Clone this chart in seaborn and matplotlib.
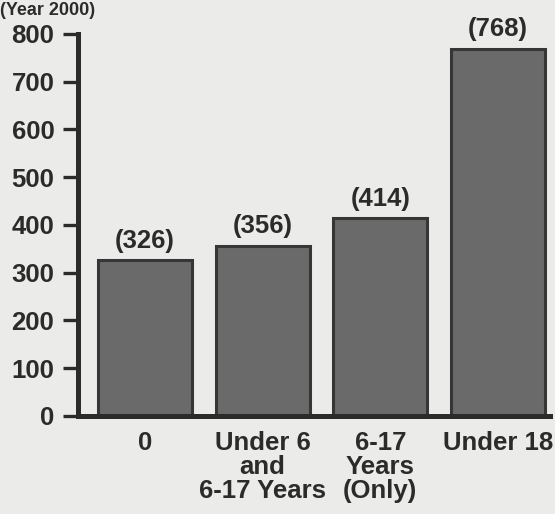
import matplotlib
matplotlib.use("Agg")
import matplotlib.pyplot as plt
import seaborn as sns
import pandas as pd

# Number of children in household
categories = ["0", "Under 6\nand\n6-17 Years", "6-17\nYears\n(Only)", "Under 18"]
values = [326, 356, 414, 768]
value_labels = ["(326)", "(356)", "(414)", "(768)"]
y_ticks = [0, 100, 200, 300, 400, 500, 600, 700, 800]

df = pd.DataFrame({"group": categories, "value": values})

sns.set_theme(style="white")
plt.rcParams["font.family"] = ["Liberation Sans", "DejaVu Sans"]
plt.rcParams["font.weight"] = "bold"

bg = "#ebebe9"
ink = "#2b2b2b"
bar_fill = "#6a6a6a"
bar_edge = "#363636"
fs = 18.5

fig = plt.figure(figsize=(5.55, 5.14), dpi=100, facecolor=bg)
ax = fig.add_axes([0.1405, 0.1907, 0.850, 0.7435])
ax.set_facecolor(bg)

sns.barplot(data=df, x="group", y="value", color=bar_fill, width=0.8,
            edgecolor=bar_edge, linewidth=2.2, saturation=1, ax=ax)

for patch, lab in zip(ax.patches, value_labels):
    ax.text(patch.get_x() + patch.get_width() / 2, patch.get_height() + 16, lab,
            ha="center", va="bottom", fontsize=fs, fontweight="bold",
            color=ink, clip_on=False)

ax.set_ylim(0, 800)
ax.set_xlim(-0.57, 3.44)
ax.set_yticks(y_ticks)
ax.set_yticklabels([str(t) for t in y_ticks], fontsize=fs, fontweight="bold", color=ink)
ax.set_xticks(range(len(categories)))
ax.set_xticklabels(categories, fontsize=fs, fontweight="bold", color=ink,
                   linespacing=1.0)
ax.set_xlabel("")
ax.set_ylabel("")

for side in ("top", "right"):
    ax.spines[side].set_visible(False)
for side in ("left", "bottom"):
    ax.spines[side].set_color(ink)
    ax.spines[side].set_linewidth(3.6)

ax.tick_params(axis="y", length=11, width=2.4, color=ink, pad=6, left=True)
ax.tick_params(axis="x", length=0, pad=11)

fig.text(0.0, 0.997, "(Year 2000)", ha="left", va="top",
         fontsize=13, fontweight="bold", color=ink)

fig.savefig("out.png", dpi=100, facecolor=bg)
